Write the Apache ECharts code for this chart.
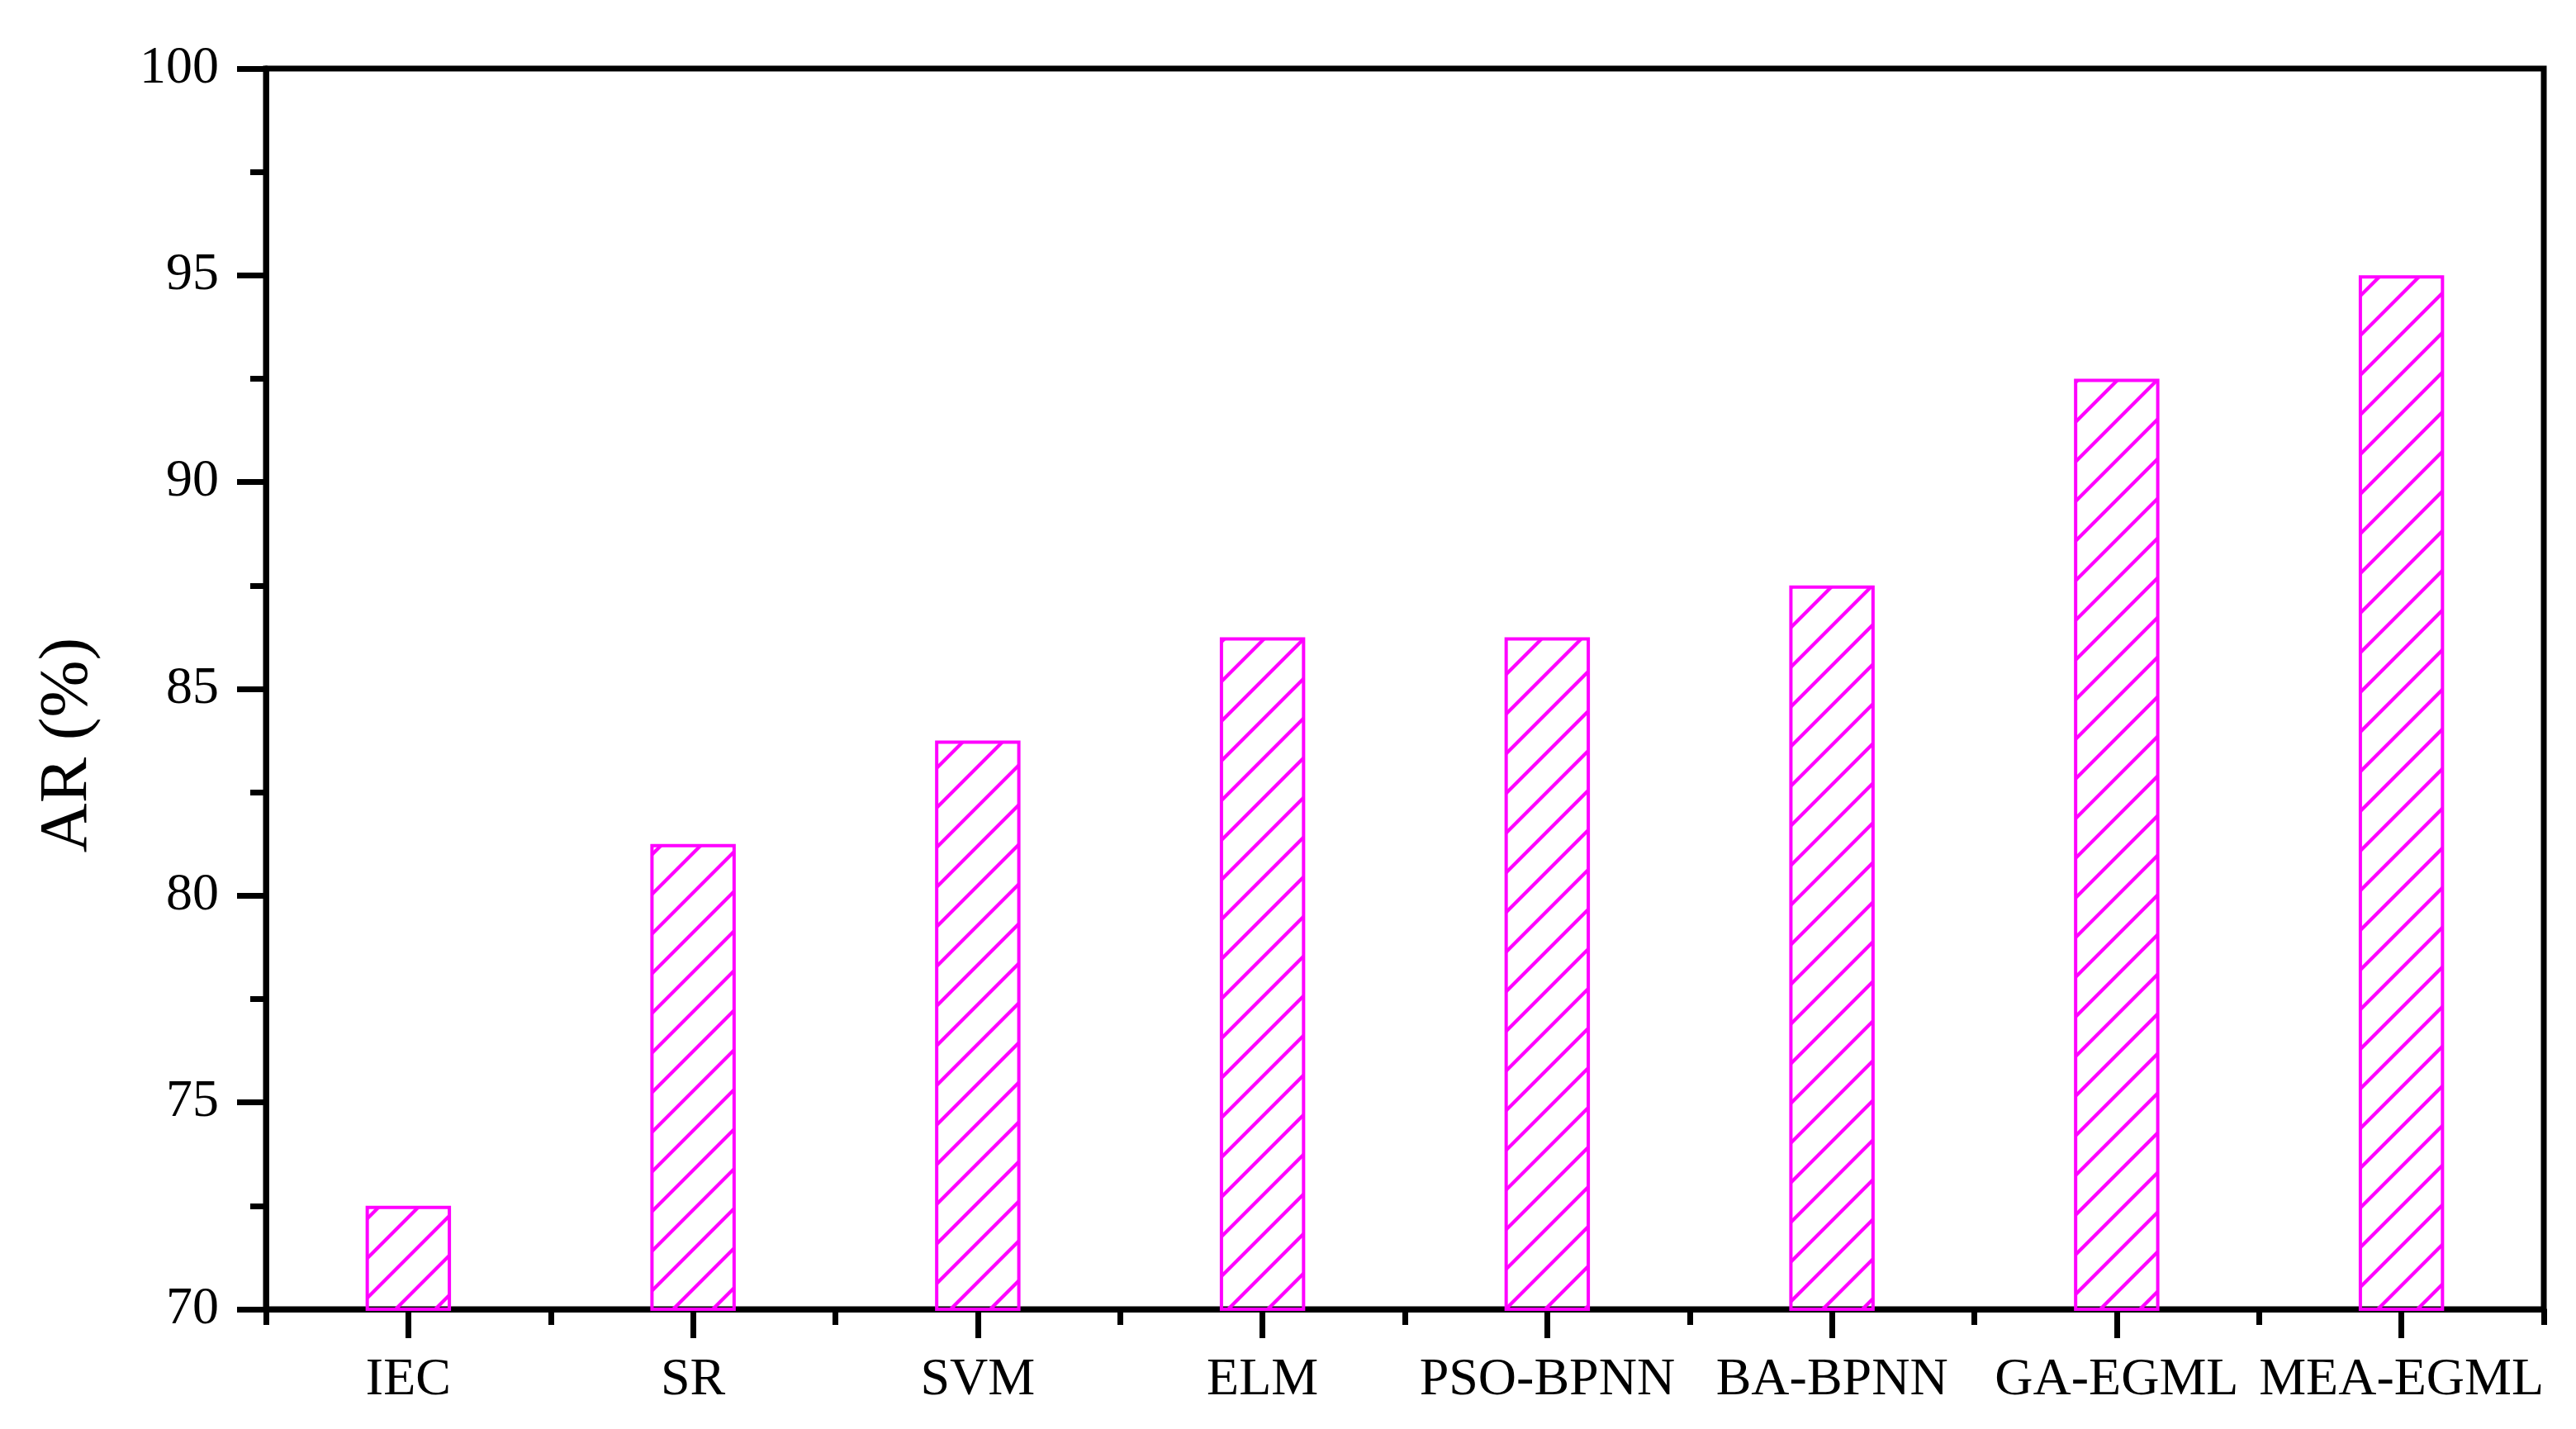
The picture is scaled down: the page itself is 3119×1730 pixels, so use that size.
<!DOCTYPE html>
<html>
<head>
<meta charset="utf-8">
<title></title>
<script src="https://cdn.jsdelivr.net/npm/echarts@6/dist/echarts.min.js"></script>
<style>
  html, body { margin: 0; padding: 0; background: #fff; }
  #container { width: 3119px; height: 1730px; }
</style>
</head>
<body>
<div id="container"></div>
<script>
    // data
    var methods = ['IEC', 'SR', 'SVM', 'ELM', 'PSO-BPNN', 'BA-BPNN', 'GA-EGML', 'MEA-EGML'];
    var arValues = [72.5, 81.25, 83.75, 86.25, 86.25, 87.5, 92.5, 95];
    var yTicks = [70, 75, 80, 85, 90, 95, 100];

    var fontName = '"Liberation Serif", "DejaVu Serif", serif';

    // hatch tile: "/" lines, magenta
    function makeHatch() {
        var s = 48;
        var c = document.createElement('canvas');
        c.width = s;
        c.height = s;
        var ctx = c.getContext('2d');
        ctx.strokeStyle = '#ff00ff';
        ctx.lineWidth = 4.2;
        for (var k = -1; k <= 1; k++) {
            ctx.beginPath();
            ctx.moveTo(k * s - 2, s + 2);
            ctx.lineTo(k * s + s + 2, -2);
            ctx.stroke();
        }
        return c;
    }

    var dom = document.getElementById('container');
    var myChart = echarts.init(dom, null, { renderer: 'canvas' });

    var option = {
        backgroundColor: '#ffffff',
        animation: false,
        grid: {
            left: 322, right: 39, top: 83, bottom: 145,
            show: true,
            borderColor: '#000',
            borderWidth: 7,
            outerBoundsMode: 'none'
        },
        xAxis: [{
            type: 'category',
            data: methods,
            position: 'bottom',
            axisLine: { lineStyle: { color: '#000', width: 7 } },
            axisTick: { show: true, alignWithLabel: true, length: 35, lineStyle: { color: '#000', width: 7 } },
            axisLabel: {
                color: '#000', fontFamily: fontName, fontSize: 64,
                margin: 54, interval: 0
            }
        }, {
            // short ticks on the category boundaries
            type: 'value',
            min: 0,
            max: methods.length,
            interval: 1,
            position: 'bottom',
            splitLine: { show: false },
            axisLine: { show: false },
            axisTick: { show: true, length: 19, lineStyle: { color: '#000', width: 7 } },
            axisLabel: { show: false }
        }],
        yAxis: {
            type: 'value',
            min: yTicks[0],
            max: yTicks[yTicks.length - 1],
            interval: 5,
            splitLine: { show: false },
            axisLine: { show: true, lineStyle: { color: '#000', width: 7 } },
            axisTick: { show: true, length: 35, lineStyle: { color: '#000', width: 7 } },
            minorTick: { show: true, splitNumber: 2, length: 19, lineStyle: { color: '#000', width: 7 } },
            axisLabel: {
                color: '#000', fontFamily: fontName, fontSize: 64,
                margin: 57, padding: [0, 0, 16, 0]
            }
        },
        graphic: [{
            type: 'text',
            x: 82,
            y: 902,
            rotation: Math.PI / 2,
            style: {
                text: 'AR (%)',
                font: '83px ' + fontName,
                fill: '#000',
                align: 'center',
                verticalAlign: 'middle'
            }
        }],
        series: [{
            type: 'bar',
            xAxisIndex: 0,
            data: arValues,
            barWidth: '30%',
            itemStyle: {
                color: { image: makeHatch(), repeat: 'repeat' },
                borderColor: '#ff00ff',
                borderWidth: 4
            }
        }]
    };

    myChart.setOption(option);
    window.addEventListener('resize', myChart.resize);
</script>
</body>
</html>
